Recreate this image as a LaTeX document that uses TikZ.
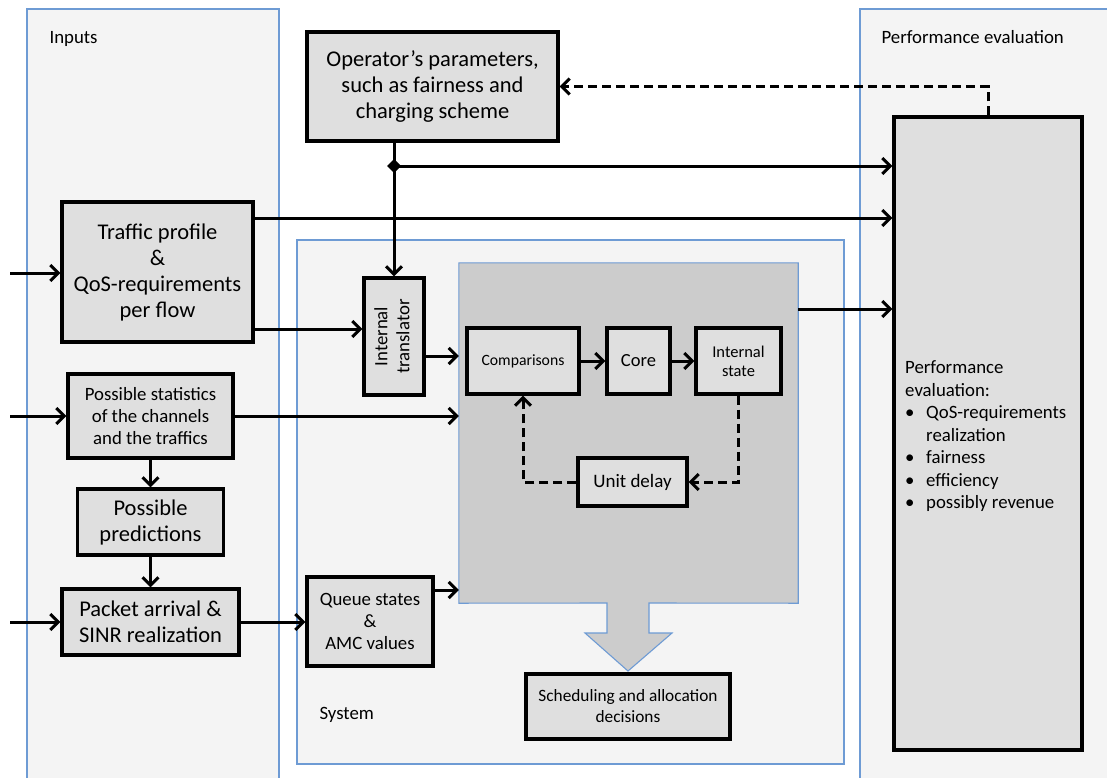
\documentclass[tikz,border=0pt]{standalone}
\usepackage{fontspec}
\setmainfont{Carlito}
\usetikzlibrary{arrows.meta,shadows,shapes.geometric}
\definecolor{panelfill}{RGB}{244,244,244}
\definecolor{panelline}{RGB}{110,155,212}
\definecolor{boxfill}{RGB}{223,223,223}
\definecolor{innerfill}{RGB}{204,204,204}
\newcommand\fsz[2]{\fontsize{#1}{#2}\selectfont}
\tikzset{
  panel/.style={draw=panelline, fill=panelfill, line width=1.1pt},
  blk/.style={draw=black, line width=3.2pt, fill=boxfill, align=center, inner sep=1pt,
    drop shadow={shadow xshift=1.5pt, shadow yshift=-1.5pt, opacity=0.3}},
  arr/.style={line width=3pt, -{Straight Barb[length=8pt,width=16pt]}},
  dsh/.style={line width=3pt, dash pattern=on 9pt off 5pt},
  big/.style={font=\fsz{22.5}{26}},
  mid/.style={font=\fsz{18.8}{22}},
  sml/.style={font=\fsz{18.8}{22}},
}
\begin{document}
\begin{tikzpicture}[x=1pt,y=-1pt]
\useasboundingbox (0,0) rectangle (1107,777);
\fill[white] (0,0) rectangle (1107,777);
% panels
\fill[panelfill] (27,9) rectangle (279,790);
\draw[panelline, line width=1.1pt] (27,790) -- (27,9) -- (279,9) -- (279,790);
\fill[panelfill] (860,9) rectangle (1120,790);
\draw[panelline, line width=1.1pt] (860,790) -- (860,9) -- (1120,9);
\draw[panel] (297,240) rectangle (844,764);
\node[anchor=base west, mid] (lin) at (46,43) {Inputs};
\node[anchor=base west, mid] (lperf) at (878,43) {Performance evaluation};
\node[anchor=base west, mid] (lsys) at (316,719) {System};
% inner box + block arrow
\node[minimum width=339pt, minimum height=340pt, inner sep=0pt] (inner) at (628.5,433) {};
\draw[draw=panelline, fill=innerfill, line width=1.1pt]
  (inner.north west) -- (inner.north east) -- (inner.south east) -- (649,603) -- (649,633)
  -- (672,633) -- (628,671) -- (585,633) -- (607,633) -- (607,603) -- (inner.south west) -- cycle;
% boxes
\node[blk, big, minimum width=251pt, minimum height=109pt] (op) at (432.5,86.5)
  {Operator’s parameters,\\such as fairness and\\charging scheme};
\node[blk, big, minimum width=191pt, minimum height=140pt] (traffic) at (157.5,272)
  {Traffic profile\\\&\\QoS-requirements\\per flow};
\node[blk, sml, minimum width=165pt, minimum height=84pt] (stats) at (150.5,416)
  {Possible statistics\\of the channels\\and the traffics};
\node[blk, big, minimum width=146pt, minimum height=66pt] (pred) at (150.5,522)
  {Possible\\predictions};
\node[blk, big, minimum width=177pt, minimum height=66pt] (packet) at (150.5,622)
  {Packet arrival \&\\SINR realization};
\node[blk, font=\fsz{18.8}{22}, minimum width=126pt, minimum height=89pt] (queue) at (370,621.5)
  {Queue states\\\&\\AMC values};
\node[blk, minimum width=60pt, minimum height=117pt] (trans) at (394,336.5)
  {\rotatebox{90}{\fsz{18.8}{22}\begin{tabular}{@{}c@{}}Internal\\translator\end{tabular}}};
\node[blk, font=\fsz{15.7}{19}, minimum width=112pt, minimum height=66pt] (comp) at (523,361) {Comparisons};
\node[blk, font=\fsz{18.5}{24}, minimum width=63pt, minimum height=66pt] (core) at (638.5,361) {Core};
\node[blk, font=\fsz{16.5}{19}, minimum width=85pt, minimum height=66pt] (state) at (738.5,361) {Internal\\state};
\node[blk, font=\fsz{19}{22}, minimum width=109pt, minimum height=48pt] (delay) at (632.5,482) {Unit delay};
\node[blk, font=\fsz{17.3}{21}, minimum width=204pt, minimum height=65pt] (sched) at (628,706.5)
  {Scheduling and allocation\\decisions};
\node[blk, minimum width=188pt, minimum height=633pt] (perf) at (988,433.5) {};
\node[anchor=north west, align=left, font=\fsz{18.8}{22.5}, inner sep=0pt] (perftext) at (905,358)
  {\begin{tabular}{@{}p{21pt}@{}l@{}}
   \multicolumn{2}{@{}l@{}}{Performance}\\
   \multicolumn{2}{@{}l@{}}{evaluation:}\\
   \textbullet & QoS-requirements\\
   & realization\\
   \textbullet & fairness\\
   \textbullet & efficiency\\
   \textbullet & possibly revenue
   \end{tabular}};
% input coordinates
\coordinate (in1) at (10,273);
\coordinate (in2) at (10,416);
\coordinate (in3) at (10,622);
\coordinate (junc) at (trans.north |- 0,166);
% connectors
\draw[arr] (in1) -- (traffic.west |- in1);
\draw[arr] (in2) -- (stats.west |- in2);
\draw[arr] (in3) -- (packet.west |- in3);
\draw[arr] (traffic.east |- 0,218) -- (perf.west |- 0,218);
\draw[arr] (traffic.east |- 0,329) -- (trans.west |- 0,329);
\draw[arr] (op.south -| trans.north) -- (trans.north);
\draw[arr] (junc) -- (perf.west |- junc);
\fill (junc) ++(0,-7) -- ++(7,7) -- ++(-7,7) -- ++(-7,-7) -- cycle;
\draw[arr] (trans.east |- 0,356) -- (inner.west |- 0,356);
\draw[arr] (stats.east) -- (inner.west |- stats.east);
\draw[arr] (stats) -- (pred);
\draw[arr] (pred) -- (packet);
\draw[arr] (packet.east) -- (queue.west |- packet.east);
\draw[arr] (queue.east |- 0,590) -- (inner.west |- 0,590);
\draw[arr] (inner.east |- 0,309) -- (perf.west |- 0,309);
\draw[arr] (comp) -- (core);
\draw[arr] (core) -- (state);
\draw[dsh, -{Straight Barb[length=8pt,width=16pt]}] (state.south) |- (delay.east);
\draw[dsh, -{Straight Barb[length=8pt,width=16pt]}] (delay.west) -| (comp.south);
\draw[dsh, -{Straight Barb[length=8pt,width=16pt]}] (perf.north) |- (op.east);
\end{tikzpicture}
\end{document}
